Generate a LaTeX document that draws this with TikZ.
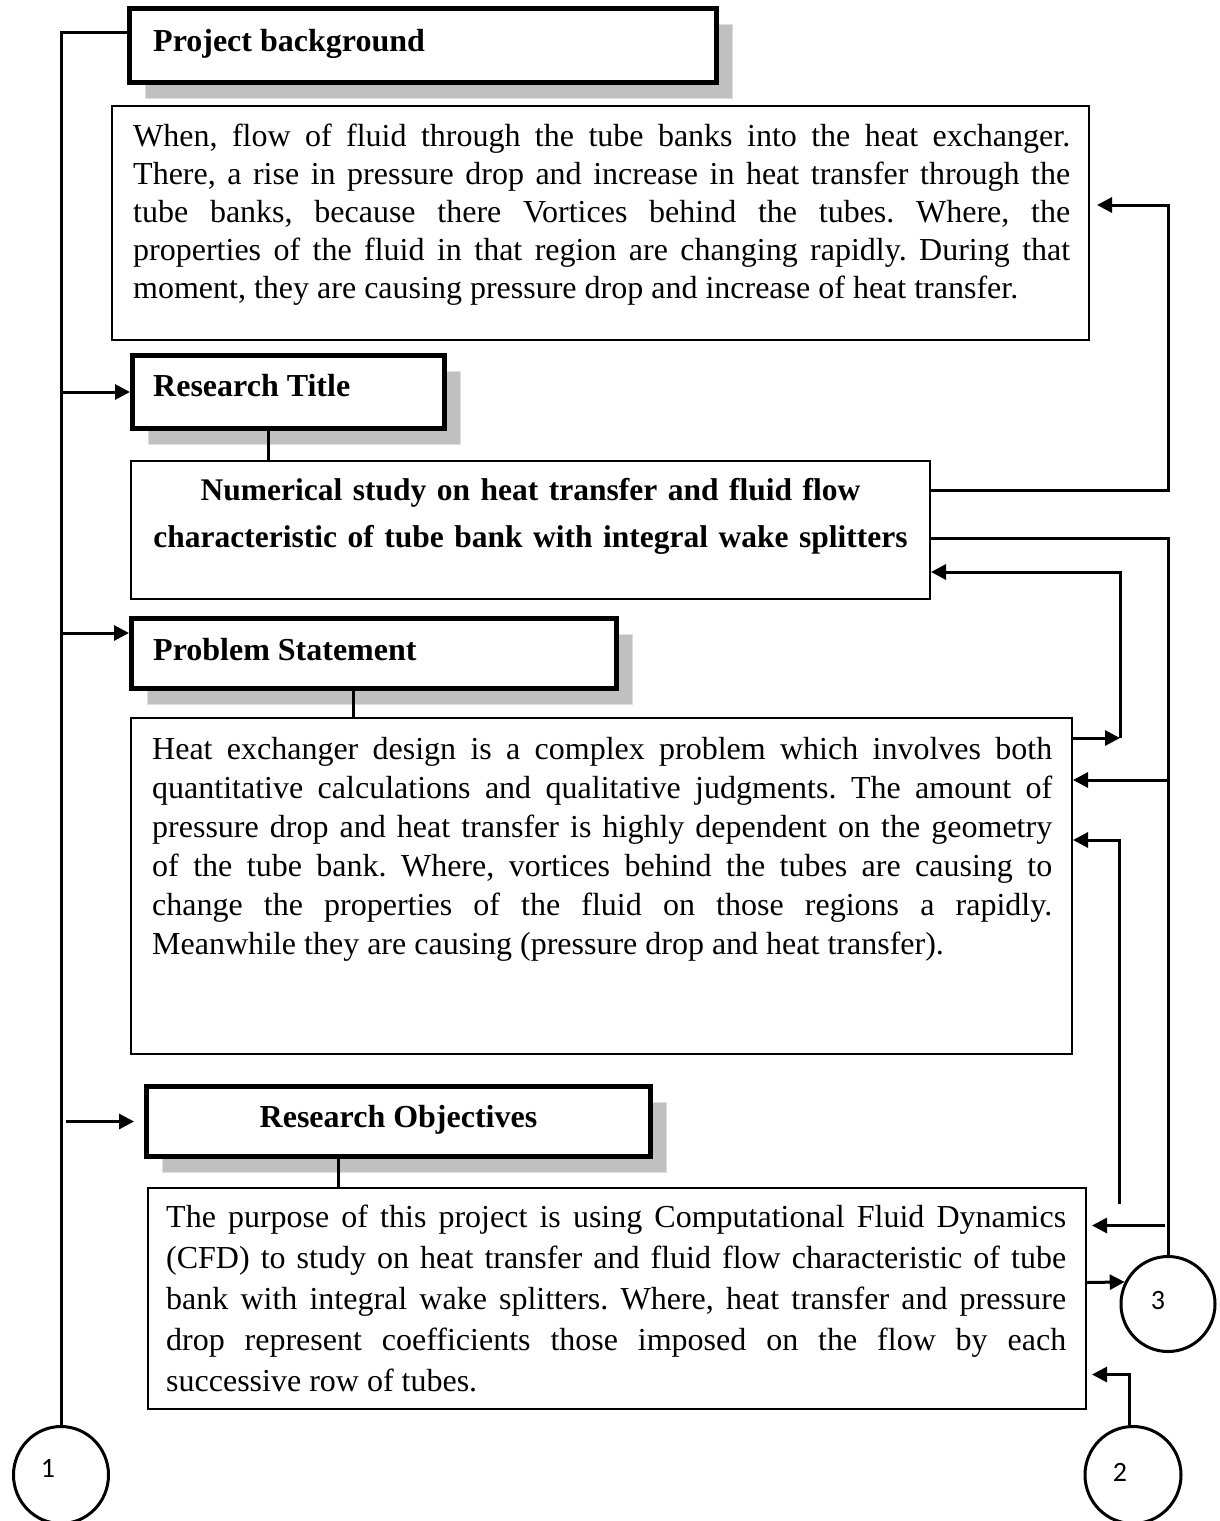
\documentclass[tikz,border=0pt]{standalone}
\usepackage{fontspec}
\setmainfont{Liberation Serif}
\newfontfamily\digitfont{Carlito}
\usepackage{xcolor}
\definecolor{shadow-gray}{RGB}{192,192,192}
\definecolor{shadow-edge}{RGB}{222,222,222}
\usepackage{tikz}
\usetikzlibrary{arrows.meta,shadows,shapes.geometric}

\frenchspacing
\newcommand{\headingfont}{\fontsize{32}{38}\selectfont\bfseries}
\newcommand{\blocktext}[1]{\fontsize{32}{#1}\selectfont\hyphenpenalty=10000\relax}

\tikzset{
    headbox/.style={draw, line width=5pt, fill=white, anchor=north west,
        drop shadow={shadow xshift=16pt, shadow yshift=-16pt,
            fill=shadow-gray, draw=shadow-edge, line width=1pt, opacity=1}},
    textbox/.style={draw, line width=2pt, fill=white, anchor=north west},
    bodytext/.style={anchor=base west, align=justify},
    link/.style={line width=3pt},
    arr/.style={link, -{Triangle[length=15pt, width=15pt]}},
    numcircle/.style={draw, ellipse, line width=3pt, fill=white},
}

\begin{document}
\begin{tikzpicture}[
    x=1pt, y=-1pt,
    every node/.style={inner sep=0pt}
]

% Page frame
\useasboundingbox[fill=white] (0,0) rectangle (1219,1521);

% Project background
\node[headbox, minimum width=587pt, minimum height=74pt] (pb) at (127,6) {};
\node[font=\headingfont, anchor=base west] (pbhead)
    at ([xshift=26, yshift=-45]pb.north west) {Project background};
\node[textbox, minimum width=977pt, minimum height=234pt] (pbt) at (111,105) {};
\node[bodytext, text width=937pt, font=\blocktext{38}] (pbtext)
    at ([xshift=22, yshift=-41]pbt.north west) {%
When, flow of fluid through the tube banks into the heat exchanger.\linebreak
There, a rise in pressure drop and increase in heat transfer through the\linebreak
tube banks, because there Vortices behind the tubes. Where, the\linebreak
properties of the fluid in that region are changing rapidly. During that\linebreak
moment, they are causing pressure drop and increase of heat transfer.};

% Research title
\node[headbox, minimum width=312pt, minimum height=73pt] (rt) at (130,353) {};
\node[font=\headingfont, anchor=base west] (rthead)
    at ([xshift=23, yshift=-43]rt.north west) {Research Title};
\node[textbox, minimum width=799pt, minimum height=138pt] (tt) at (130,460) {};
\node[anchor=base, text width=790pt, align=center, font=\headingfont\fontsize{31.5}{47}\selectfont] (tttext)
    at ([yshift=-40]tt.north) {Numerical study on heat transfer and fluid flow\\
characteristic of tube bank with integral wake splitters};

% Problem statement
\node[headbox, minimum width=485pt, minimum height=70pt] (ps) at (129,616) {};
\node[font=\headingfont, anchor=base west] (pshead)
    at ([xshift=24, yshift=-44]ps.north west) {Problem Statement};
\node[textbox, minimum width=941pt, minimum height=336pt] (pst) at (130,717) {};
\node[bodytext, text width=900pt, font=\blocktext{39}] (psttext)
    at ([xshift=22, yshift=-42]pst.north west) {%
Heat exchanger design is a complex problem which involves both\linebreak
quantitative calculations and qualitative judgments. The amount of\linebreak
pressure drop and heat transfer is highly dependent on the geometry\linebreak
of the tube bank. Where, vortices behind the tubes are causing to\linebreak
change the properties of the fluid on those regions a rapidly.\linebreak
Meanwhile they are causing (pressure drop and heat transfer).};

% Research objectives
\node[headbox, minimum width=504pt, minimum height=70pt] (ro) at (144,1084) {};
\node[font=\headingfont, anchor=base] (rohead)
    at ([yshift=-43]ro.north) {Research Objectives};
\node[textbox, minimum width=938pt, minimum height=221pt] (rot) at (147,1187) {};
\node[bodytext, text width=900pt, font=\blocktext{41}] (rottext)
    at ([xshift=19, yshift=-40]rot.north west) {%
The purpose of this project is using Computational Fluid Dynamics\linebreak
(CFD) to study on heat transfer and fluid flow characteristic of tube\linebreak
bank with integral wake splitters. Where, heat transfer and pressure\linebreak
drop represent coefficients those imposed on the flow by each\linebreak
successive row of tubes.};

% Numbered circles
\node[numcircle, minimum width=95pt, minimum height=97pt] (c1) at (61,1475) {};
\node[numcircle, minimum width=96pt, minimum height=97pt] (c2) at (1133,1475) {};
\node[numcircle, minimum width=94pt, minimum height=95pt] (c3) at (1168,1304) {};
\node[font=\digitfont\fontsize{28}{32}\selectfont] (n1) at ([xshift=-13, yshift=7]c1.center) {1};
\node[font=\digitfont\fontsize{28}{32}\selectfont] (n2) at ([xshift=-13, yshift=3]c2.center) {2};
\node[font=\digitfont\fontsize{28}{32}\selectfont] (n3) at ([xshift=-10, yshift=4]c3.center) {3};

% Stems from headings to their boxes
\coordinate (rtfoot) at ([xshift=-20]rt.south);
\coordinate (psfoot) at ([xshift=-21]ps.south);
\coordinate (rofoot) at ([xshift=-60]ro.south);
\draw[link] (rtfoot) -- (rtfoot |- tt.north);
\draw[link] (psfoot) -- (psfoot |- pst.north);
\draw[link] (rofoot) -- (rofoot |- rot.north);

% Left spine
\coordinate (psin) at ([yshift=-17]ps.north west);
\draw[link] (c1.north) |- ([yshift=-26]pb.north west);
\draw[arr] (c1.north |- rt.west) -- (rt.west);
\draw[arr] (c1.north |- psin) -- (psin);
\draw[arr] ([xshift=-78]ro.west) -- ([xshift=-10]ro.west);

% Right side loops
\coordinate (ttA) at ([yshift=-30]tt.north east);
\coordinate (pbtA) at ([xshift=7, yshift=18]pbt.east);
\draw[arr] (ttA) -- ++(237,0) |- (pbtA);

\coordinate (ttB) at ([yshift=-8]tt.east);
\coordinate (pstB) at ([yshift=106]pst.east);
\coordinate (rotB) at ([xshift=5, yshift=73]rot.east);
\coordinate (c3top) at ([xshift=-3]c3.north);
\draw[link] (ttB) -| (c3.north);
\draw[arr] (c3.north |- pstB) -- (pstB);
\draw[arr] (c3top |- rotB) -- (rotB);

\coordinate (pstC) at ([yshift=148]pst.east);
\coordinate (bendC) at ([xshift=47]pstC);
\draw[arr] (pstC) -- (bendC);
\draw[arr] (bendC) |- ([yshift=28]tt.south east);

\coordinate (stubD) at (1119,1204);
\coordinate (pstD) at ([yshift=46]pst.east);
\draw[arr] (stubD) |- (pstD);

\draw[arr] ([yshift=16]rot.east) -- (c3.153);
\coordinate (c2top) at ([xshift=-4]c2.north);
\draw[arr] (c2top) |- ([xshift=5, yshift=-76]rot.east);

\end{tikzpicture}
\end{document}
